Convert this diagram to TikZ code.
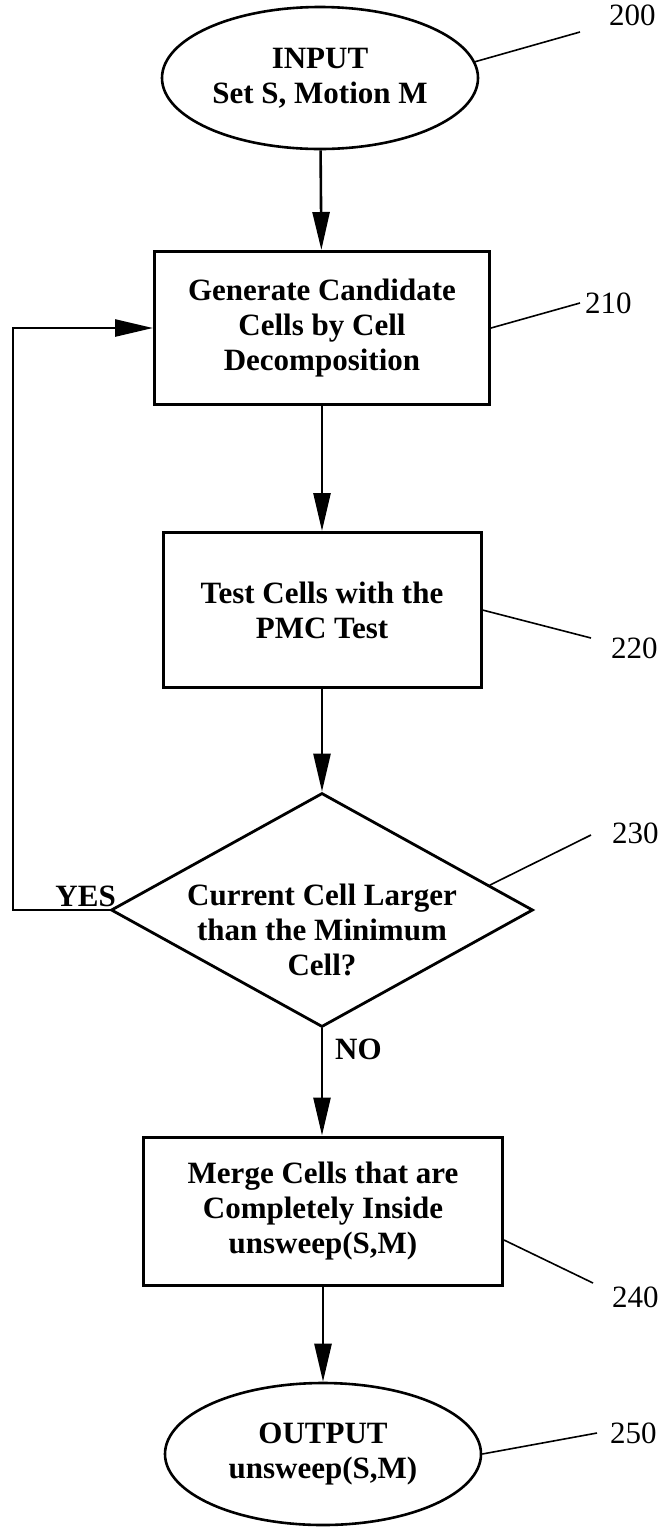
\documentclass[tikz,border=0pt]{standalone}
\usepackage{fontspec}
\setmainfont{Liberation Serif}
\usetikzlibrary{shapes.geometric, arrows.meta, calc}
\begin{document}
\begin{tikzpicture}[x=1pt,y=-1pt,
  txt/.style={font=\fontsize{31}{35}\selectfont\bfseries, align=center},
  term/.style={draw, ellipse, line width=2.6pt, inner sep=0pt, minimum width=316pt, minimum height=142pt, txt},
  proc/.style={draw, rectangle, line width=3pt, inner sep=0pt, txt},
  dec/.style={draw, diamond, line width=2.8pt, inner sep=0pt, minimum width=422pt, minimum height=234pt},
  flow/.style={line width=2.6pt, -{Triangle[length=38pt,width=17pt]}},
  lead/.style={line width=1.6pt},
  ref/.style={font=\fontsize{31}{35}\selectfont, anchor=base west, inner sep=0pt},
  lab/.style={font=\fontsize{31}{35}\selectfont\bfseries, inner sep=0pt}
  ]
\useasboundingbox[fill=white] (0,0) rectangle (660,1527);
\node[term] (n200) at (320,78) {INPUT\\Set S, Motion M};
\node[proc, minimum width=335pt, minimum height=153pt] (n210) at (322,328) {Generate Candidate\\Cells by Cell\\Decomposition};
\node[proc, minimum width=318pt, minimum height=155pt] (n220) at (322,610) {Test Cells with the\\PMC Test};
\node[dec] (n230) at (322,910) {};
\node[txt] (t230) at (322,930) {Current Cell Larger\\than the Minimum\\Cell?};
\node[proc, minimum width=359pt, minimum height=148pt] (n240) at (323,1211) {Merge Cells that are\\Completely Inside\\unsweep(S,M)};
\node[term] (n250) at (323,1454) {OUTPUT\\unsweep(S,M)};

\draw[flow] (n200) -- (n210);
\draw[flow] (n210) -- (n220);
\draw[flow] (n220) -- (n230);
\draw[flow] (n230.south) -- (n230.south |- n240.north);
\draw[flow] (n240) -- (n250);
\coordinate (fb) at (13,910);
\draw[flow] (n230.west) -- (fb) |- (n210.west);

\node[lab, anchor=base east] (yes) at (116,906) {YES};
\node[lab, anchor=base west] (no) at (335,1059) {NO};

\node[ref] (l200) at (609,25) {200};
\node[ref] (l210) at (585,313) {210};
\node[ref] (l220) at (611,658) {220};
\node[ref] (l230) at (612,843) {230};
\node[ref] (l240) at (612,1307) {240};
\node[ref] (l250) at (610,1443) {250};

\coordinate (c200) at (580,32);
\coordinate (c210) at (580,303);
\coordinate (c220) at (591,638);
\coordinate (c230) at (591,835);
\coordinate (c240) at (593,1283);
\coordinate (c250) at (597,1433);

\draw[lead] (n200.6) -- (c200);
\draw[lead] (n210.east) -- (c210);
\draw[lead] (n220.east) -- (c220);
\draw[lead] ($(n230.east)!0.21!(n230.north)$) -- (c230);
\draw[lead] ([yshift=-29pt]n240.east) -- (c240);
\draw[lead] (n250.east) -- (c250);
\end{tikzpicture}
\end{document}
